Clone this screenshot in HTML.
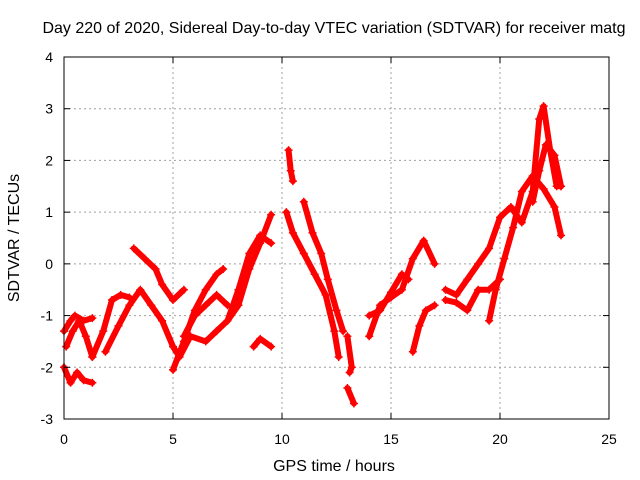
<!DOCTYPE html>
<html><head><meta charset="utf-8"><style>
body{margin:0;background:#fff}
svg{display:block;font-family:"Liberation Sans",sans-serif}
</style></head><body>
<svg id="chart" width="640" height="480">
<rect width="640" height="480" fill="#fff"/>
<text x="334" y="33" font-size="16" text-anchor="middle">Day 220 of 2020, Sidereal Day-to-day VTEC variation (SDTVAR) for receiver matg</text>
<text x="334" y="471" font-size="16" text-anchor="middle">GPS time / hours</text>
<text transform="translate(19,238) rotate(-90)" font-size="16" text-anchor="middle">SDTVAR / TECUs</text>
<g id="grid"></g><g id="marks"></g><g id="axes"></g>
</svg>
<script>
const xTicks=[0,5,10,15,20,25];
const yTicks=[-3,-2,-1,0,1,2,3,4];
const trackA=[[0,-1.3],[0.3,-1.1],[0.5,-1],[0.9,-1.1],[1.3,-1.05]];
const trackB=[[0,-2],[0.3,-2.3],[0.6,-2.1],[0.9,-2.25],[1.3,-2.3]];
const trackC=[[0.1,-1.6],[0.4,-1.3],[0.7,-1.1],[1,-1.4],[1.3,-1.8]];
const trackD=[[1.3,-1.8],[1.8,-1.3],[2.2,-0.7],[2.6,-0.6],[3,-0.65]];
const trackE=[[1.9,-1.7],[2.5,-1.2],[3,-0.8],[3.5,-0.5],[4,-0.8],[4.5,-1.1],[5,-1.6],[5.3,-1.8],[5.8,-1.4],[6.5,-1.5],[7,-1.3]];
const trackF=[[3.2,0.3],[3.7,0.1],[4.2,-0.1],[4.5,-0.4],[5,-0.7],[5.5,-0.5]];
const trackG=[[5,-2.05],[5.5,-1.5],[6,-0.9],[6.5,-0.5],[7,-0.2],[7.3,-0.1]];
const trackH=[[5.5,-1.4],[6,-1],[6.5,-0.8],[7,-0.6],[7.5,-0.8]];
const trackI=[[7,-1.3],[7.5,-1.1],[8,-0.8],[8.5,-0.1],[9,0.4],[9.5,0.95]];
const trackJ=[[7.5,-1.1],[8,-0.5],[8.5,0.2],[9,0.55],[9.5,0.4]];
const trackK=[[8.7,-1.6],[9,-1.45],[9.5,-1.6]];
const trackL=[[10.3,2.2],[10.4,1.8],[10.5,1.6]];
const trackM=[[10.2,1],[10.5,0.6],[11,0.2],[11.5,-0.2],[12,-0.6],[12.4,-1.3],[12.6,-1.8]];
const trackN=[[11,1.2],[11.4,0.6],[11.8,0.2],[12.1,-0.3],[12.5,-0.9],[12.8,-1.3]];
const trackO=[[13,-1.4],[13.2,-2],[13.1,-2.1]];
const trackP=[[13,-2.4],[13.3,-2.7]];
const trackQ=[[14,-1.4],[14.5,-0.8],[15,-0.65],[15.5,-0.5],[16,0.1],[16.5,0.45],[17,0]];
const trackR=[[14,-1],[14.5,-0.9],[15,-0.55],[15.5,-0.2],[15.8,-0.3]];
const trackS=[[16,-1.7],[16.3,-1.2],[16.6,-0.9],[17,-0.8]];
const trackT=[[17.5,-0.5],[18,-0.6],[18.5,-0.3],[19,0],[19.5,0.3],[20,0.9],[20.5,1.1],[21,0.8],[21.5,1.4],[21.8,2.8],[22,3.05],[22.3,2.2],[22.6,1.5],[22.8,1.5]];
const trackU=[[17.5,-0.7],[18,-0.75],[18.5,-0.9],[19,-0.5],[19.5,-0.5],[20,-0.3]];
const trackV=[[19.5,-1.1],[19.8,-0.5],[20.2,0.1],[20.6,0.7],[21,1.4],[21.5,1.7],[22,1.45],[22.5,1.1],[22.8,0.55]];
const trackW=[[21.5,1.2],[21.8,1.8],[22.1,2.3],[22.5,2.1],[22.8,1.5]];
const tracks=[trackA,trackB,trackC,trackD,trackE,trackF,trackG,trackH,trackI,trackJ,trackK,trackL,trackM,trackN,trackO,trackP,trackQ,trackR,trackS,trackT,trackU,trackV,trackW];
const X0=64,X1=609,Y0=419,Y1=57;
const sx=v=>X0+(v-0)/25*(X1-X0);
const sy=v=>Y0-(v+3)/7*(Y0-Y1);
const NS="http://www.w3.org/2000/svg";
const grid=document.getElementById('grid'),axes=document.getElementById('axes'),marks=document.getElementById('marks');
function mk(t,a,p){const e=document.createElementNS(NS,t);for(const k in a)e.setAttribute(k,a[k]);p.appendChild(e);return e;}
xTicks.forEach(v=>{const x=sx(v);
 if(v>0&&v<25){const g=mk('line',{x1:x,x2:x,y1:Y1,y2:Y0,stroke:'#a0a0a0','stroke-dasharray':'2,3'},grid);
 
 }
 const t=mk('text',{x:x,y:444,'font-size':14,'text-anchor':'middle'},axes);t.textContent=v;
 
 
 mk('line',{x1:x,x2:x,y1:Y0,y2:Y0-6,stroke:'#000'},axes);mk('line',{x1:x,x2:x,y1:Y1,y2:Y1+6,stroke:'#000'},axes);});
yTicks.forEach(v=>{const y=sy(v);
 if(v>-3&&v<4){const g=mk('line',{x1:X0,x2:X1,y1:y,y2:y,stroke:'#a0a0a0','stroke-dasharray':'2,3'},grid);
 
 }
 const t=mk('text',{x:53,y:y+5,'font-size':14,'text-anchor':'end'},axes);t.textContent=v;
 
 
 mk('line',{x1:X0,x2:X0+6,y1:y,y2:y,stroke:'#000'},axes);mk('line',{x1:X1,x2:X1-6,y1:y,y2:y,stroke:'#000'},axes);});
const fr=mk('rect',{x:X0,y:Y1,width:X1-X0,height:Y0-Y1,fill:'none',stroke:'#000'},axes);


tracks.forEach(tr=>{
 const pl=mk('polyline',{points:tr.map(p=>sx(p[0])+','+sy(p[1])).join(' '),fill:'none',stroke:'#ff0000','stroke-width':6,'stroke-linejoin':'round','stroke-linecap':'round'},marks);
 
 
 tr.forEach(p=>{const x=sx(p[0]),y=sy(p[1]);
  const m=mk('path',{d:`M${x-4},${y}H${x+4}M${x},${y-4}V${y+4}`,stroke:'#ff0000','stroke-width':1.5},marks);
  
  });
});
</script>
</body></html>
